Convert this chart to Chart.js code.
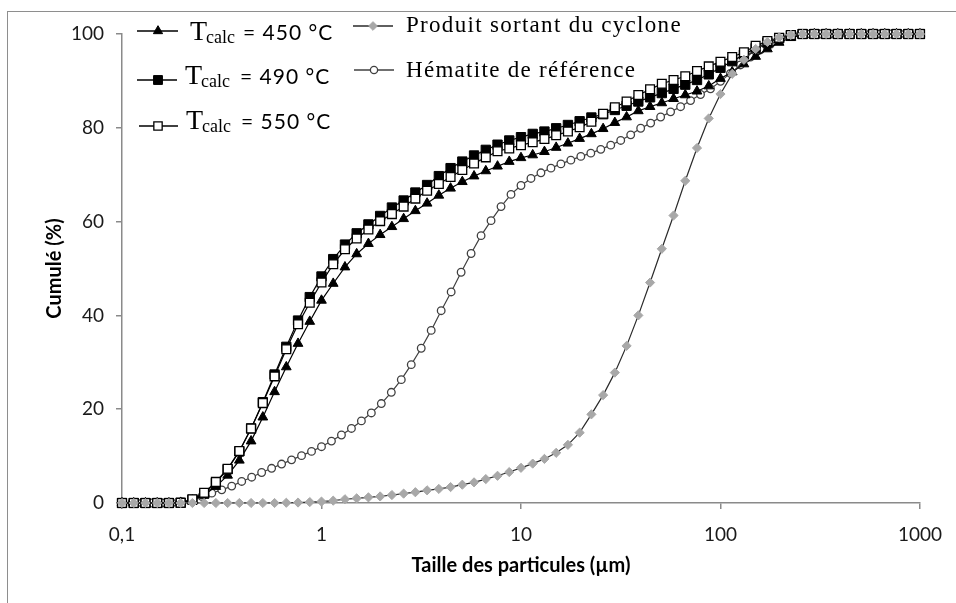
<!DOCTYPE html>
<html><head><meta charset="utf-8">
<script src="https://cdn.jsdelivr.net/npm/chart.js@4.4.0/dist/chart.umd.min.js"></script>
<style>
html,body{margin:0;padding:0;background:#fff;}
#wrap{position:relative;width:956px;height:603px;overflow:hidden;background:#fff;}
#frame{position:absolute;left:7px;top:11px;right:-5px;bottom:-5px;border-left:1px solid #8e8e8e;border-top:1px solid #8e8e8e;}
canvas{position:absolute;left:0;top:0;}
</style></head><body>
<div id="wrap"><div id="frame"></div><canvas id="c" width="956" height="603"></canvas></div>
<script>
// Particle sizes (µm) – laser granulometry classes
const sizesA = [0.1,0.1145,0.1311,0.1501,0.1719,0.1968,0.2254,0.2581,0.2955,0.3384,0.3875,0.4437,0.5081,0.5818,0.6662,0.7628,0.8734,
  1,1.145,1.311,1.501,1.719,1.968,2.254,2.581,2.955,3.384,3.875,4.437,5.081,5.818,6.662,7.628,8.734,
  10,11.45,13.11,15.01,17.19,19.68,22.54,25.81,29.55,33.84,38.75,44.37,50.81,58.18,66.62,76.28,87.34,
  100,114.5,131.1,150.1,171.9,196.8,225.4,258.1,295.5,338.4,387.5,443.7,508.1,581.8,666.2,762.8,873.4,1000];
const sizesB = [0.1,0.1122,0.1259,0.1413,0.1585,0.1778,0.1995,0.2239,0.2512,0.2818,0.3162,0.3548,0.3981,0.4467,0.5012,0.5623,0.6310,0.7079,0.7943,0.8913,
  1,1.122,1.259,1.413,1.585,1.778,1.995,2.239,2.512,2.818,3.162,3.548,3.981,4.467,5.012,5.623,6.310,7.079,7.943,8.913,
  10,11.22,12.59,14.13,15.85,17.78,19.95,22.39,25.12,28.18,31.62,35.48,39.81,44.67,50.12,56.23,63.10,70.79,79.43,89.13,
  100,112.2,125.9,141.3,158.5,177.8,199.5,223.9,251.2,281.8,316.2,354.8,398.1,446.7,501.2,562.3,631.0,707.9,794.3,891.3,1000];

// Cumulative (%) – T calc = 450 °C (on sizesA)
const cum450 = [0,0,0,0,0,0.1,0.6,1.7,3.5,5.9,9.1,13.2,18.3,23.7,29.0,34.0,38.7,
  43.2,46.8,50.3,53.1,55.3,57.2,58.9,60.6,62.3,63.9,65.6,67.1,68.5,69.7,70.8,71.8,72.8,
  73.6,74.2,74.9,75.8,76.7,77.7,78.7,79.8,81.1,82.3,83.6,84.5,85.3,86.2,87.0,87.8,88.9,
  90.5,91.9,93.6,95.2,96.8,98.2,99.2,99.8,100,100,100,100,100,100,100,100,100,100];
// T calc = 490 °C
const cum490 = [0,0,0,0,0,0.05,0.7,2.0,4.3,7.2,11.0,15.9,21.5,27.4,33.3,38.9,43.9,
  48.3,52.0,55.1,57.5,59.4,61.2,63.0,64.5,66.2,67.8,69.7,71.4,72.8,74.1,75.3,76.4,77.3,
  78.0,78.7,79.2,79.9,80.6,81.4,82.2,82.9,83.8,84.7,85.6,86.5,87.4,88.3,89.2,90.2,91.4,
  92.8,94.2,95.6,97.0,98.2,99.1,99.7,100,100,100,100,100,100,100,100,100,100,100];
// T calc = 550 °C
const cum550 = [0,0,0,0,0,0.05,0.8,2.2,4.5,7.3,11.1,15.9,21.3,27.0,32.8,38.1,42.7,
  47.0,50.9,54.1,56.4,58.3,60.1,61.6,63.2,64.9,66.6,68.0,69.5,71.0,72.4,73.7,75.0,75.6,
  76.3,76.9,77.6,78.4,79.2,80.1,81.3,83.0,84.4,85.6,87.0,88.2,89.4,90.2,91.0,92.1,93.1,
  94.1,95.1,96.1,97.5,98.5,99.2,99.8,100,100,100,100,100,100,100,100,100,100,100];
// Produit sortant du cyclone (on sizesA)
const cumProduit = [0,0,0,0,0,0,0,0,0,0,0,0,0,0,0.05,0.1,0.2,
  0.3,0.5,0.8,1.0,1.2,1.4,1.7,2.0,2.3,2.7,3.0,3.4,3.9,4.4,5.1,5.8,6.6,
  7.5,8.4,9.4,10.7,12.4,15.0,18.9,23.0,27.8,33.5,40.0,47.0,54.2,61.3,68.7,75.7,82.0,
  87.2,91.5,94.5,96.8,98.3,99.3,99.8,100,100,100,100,100,100,100,100,100,100,100];
// Hématite de référence (on sizesB)
const cumHematite = [0,0,0,0,0,0,0.2,0.7,1.4,2.1,2.8,3.6,4.6,5.5,6.5,7.4,8.3,9.2,10.1,11.0,
  12.0,13.2,14.5,15.9,17.5,19.2,21.2,23.6,26.3,29.5,33.0,36.8,41.0,45.0,49.2,53.2,57.0,60.2,63.2,65.8,
  67.7,69.2,70.4,71.4,72.3,73.1,73.9,74.6,75.4,76.3,77.3,78.5,79.9,81.0,82.3,83.4,84.5,85.8,87.1,88.3,
  89.9,91.6,93.4,95.1,96.6,97.8,98.8,99.5,99.9,100,100,100,100,100,100,100,100,100,100,100,100];

const seriesNames = ['T calc = 450 °C','T calc = 490 °C','T calc = 550 °C','Produit sortant du cyclone','Hématite de référence'];
const xTickValues = [0.1,1,10,100,1000];
const xTickLabels = ['0,1','1','10','100','1000'];
const yTickValues = [0,20,40,60,80,100];
const xTitle = 'Taille des particules (µm)';
const yTitle = 'Cumulé (%)';

const pts = (xs, ys) => ys.map((v, i) => ({x: xs[i], y: v}));

const datasets = [
  {label: seriesNames[3], data: pts(sizesA, cumProduit), order: 0, borderColor: '#2a2a2a', borderWidth: 1.2,
   pointStyle: 'rectRot', pointRadius: 4.6, pointBackgroundColor: '#a8a8a8', pointBorderColor: '#a8a8a8', pointBorderWidth: 1},
  {label: seriesNames[2], data: pts(sizesA, cum550), order: 1, borderColor: '#000', borderWidth: 1.2,
   pointStyle: 'rect', pointRadius: 6.2, pointBackgroundColor: '#fff', pointBorderColor: '#000', pointBorderWidth: 1.3},
  {label: seriesNames[1], data: pts(sizesA, cum490), order: 2, borderColor: '#000', borderWidth: 1.2,
   pointStyle: 'rect', pointRadius: 6.6, pointBackgroundColor: '#000', pointBorderColor: '#000', pointBorderWidth: 1},
  {label: seriesNames[0], data: pts(sizesA, cum450), order: 3, borderColor: '#000', borderWidth: 1.2,
   pointStyle: 'triangle', pointRadius: 5.6, pointBackgroundColor: '#000', pointBorderColor: '#000', pointBorderWidth: 1},
  {label: seriesNames[4], data: pts(sizesB, cumHematite), order: 4, borderColor: '#404040', borderWidth: 1.2,
   pointStyle: 'circle', pointRadius: 3.8, pointBackgroundColor: '#fff', pointBorderColor: '#404040', pointBorderWidth: 1.3}
];
datasets.forEach(d => { d.tension = 0; d.fill = false; d.clip = false; });

const legendPlugin = {
  id: 'customLegend',
  afterDraw(chart) {
    const ctx = chart.ctx;
    const H = Chart.helpers;
    const byLabel = {};
    chart.data.datasets.forEach(d => byLabel[d.label] = d);
    const marker = (d, x, y) => {
      ctx.save();
      ctx.fillStyle = d.pointBackgroundColor;
      ctx.strokeStyle = d.pointBorderColor;
      ctx.lineWidth = d.pointBorderWidth;
      H.drawPoint(ctx, {pointStyle: d.pointStyle, radius: d.pointRadius * 0.95, rotation: 0, borderWidth: d.pointBorderWidth}, x, y);
      ctx.restore();
    };
    const line = (d, x1, x2, y) => {
      ctx.save();
      ctx.strokeStyle = d.borderColor; ctx.lineWidth = 1.3;
      ctx.beginPath(); ctx.moveTo(x1, y); ctx.lineTo(x2, y); ctx.stroke();
      ctx.restore();
    };
    const tcalc = [
      {name: seriesNames[0], temp: '= 450 °C', lx1: 137, lx2: 178, ly: 31, mx: 158, tx: 190, base: 39.5, ex: 243},
      {name: seriesNames[1], temp: '= 490 °C', lx1: 137, lx2: 177, ly: 80, mx: 158, tx: 185, base: 83.5, ex: 240},
      {name: seriesNames[2], temp: '= 550 °C', lx1: 139, lx2: 178, ly: 126, mx: 158, tx: 186, base: 128.5, ex: 241}
    ];
    tcalc.forEach(e => {
      const d = byLabel[e.name];
      line(d, e.lx1, e.lx2, e.ly);
      marker(d, e.mx, e.ly);
      ctx.save();
      ctx.fillStyle = '#000';
      ctx.textBaseline = 'alphabetic';
      ctx.textAlign = 'left';
      ctx.font = '28px "Liberation Serif", "Times New Roman", serif';
      ctx.fillText('T', e.tx, e.base);
      const tw = ctx.measureText('T').width;
      ctx.font = '18px "Liberation Serif", "Times New Roman", serif';
      ctx.fillText('calc', e.tx + tw - 1, e.base + 3.5);
      ctx.font = '21px Lato, "Open Sans", sans-serif';
      try { ctx.letterSpacing = '1px'; } catch (err) {}
      ctx.fillText(e.temp, e.ex, e.base);
      ctx.restore();
    });
    const right = [
      {name: seriesNames[3], lx1: 353, lx2: 393, ly: 26, mx: 373, tx: 406, base: 32},
      {name: seriesNames[4], lx1: 354, lx2: 394, ly: 70, mx: 374, tx: 406, base: 77}
    ];
    right.forEach(e => {
      const d = byLabel[e.name];
      line(d, e.lx1, e.lx2, e.ly);
      marker(d, e.mx, e.ly);
      ctx.save();
      ctx.fillStyle = '#000';
      ctx.textBaseline = 'alphabetic';
      ctx.textAlign = 'left';
      ctx.font = '23px "Liberation Serif", "Times New Roman", serif';
      try { ctx.letterSpacing = '1.3px'; } catch (err) {}
      ctx.fillText(e.name, e.tx, e.base);
      ctx.restore();
    });
  }
};

new Chart(document.getElementById('c'), {
  type: 'line',
  data: {datasets},
  plugins: [legendPlugin],
  options: {
    responsive: false,
    animation: false,
    devicePixelRatio: 1,
    layout: {padding: {left: 0, right: 35, top: 34, bottom: 0}},
    plugins: {legend: {display: false}, tooltip: {enabled: false}},
    scales: {
      x: {
        type: 'logarithmic', min: 0.1, max: 1000,
        afterBuildTicks: s => { s.ticks = xTickValues.map(v => ({value: v, major: true})); },
        afterFit: s => { s.height = 100; },
        grid: {drawOnChartArea: false, drawTicks: true, tickLength: 6, color: '#8a8a8a', lineWidth: 1.5},
        border: {display: true, color: '#8a8a8a', width: 1.5},
        ticks: {autoSkip: false, maxRotation: 0, minRotation: 0, padding: 14, color: '#1a1a1a',
          font: {family: 'Lato', size: 19}, callback: (v, i) => xTickLabels[i]},
        title: {display: true, text: xTitle, color: '#000', font: {family: 'Lato', size: 20, weight: 'bold'}, padding: {top: 0, bottom: 25}}
      },
      y: {
        min: 0, max: 100,
        afterBuildTicks: s => { s.ticks = yTickValues.map(v => ({value: v})); },
        afterFit: s => { s.width = 122; },
        grid: {drawOnChartArea: false, drawTicks: true, tickLength: 6, color: '#8a8a8a', lineWidth: 1.5},
        border: {display: true, color: '#8a8a8a', width: 1.5},
        ticks: {padding: 12, color: '#1a1a1a', font: {family: 'Lato', size: 19}},
        title: {display: true, text: yTitle, color: '#000', font: {family: 'Lato', size: 20, weight: 'bold'}, padding: {top: 43, bottom: 0}}
      }
    }
  }
});
</script>
</body></html>
